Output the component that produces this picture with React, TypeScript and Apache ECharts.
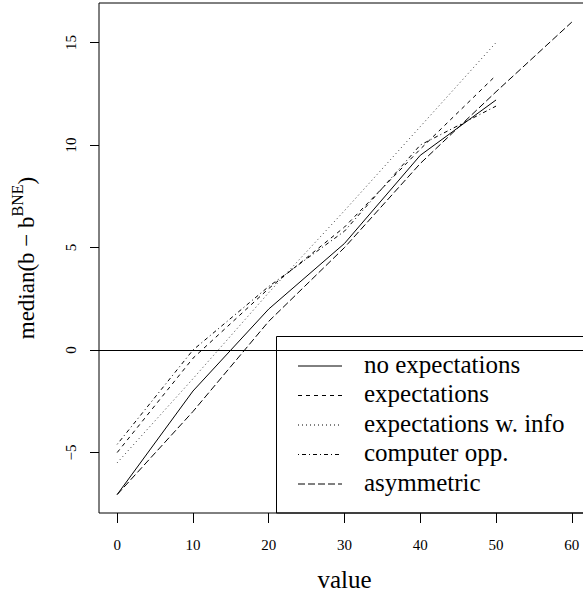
import React, { useEffect, useRef } from "react";
import * as echarts from "echarts";

const xs = [0, 10, 20, 30, 40, 50];
const xsAsym = [0, 10, 20, 30, 40, 50, 60];
const noExpectations = [-7.05, -2.0, 2.0, 5.2, 9.5, 12.2];
const expectations = [-5.0, -0.4, 3.0, 6.0, 9.8, 13.4];
const expectationsInfo = [-5.5, -1.4, 2.8, 6.8, 10.9, 15.0];
const computerOpp = [-4.6, 0.0, 3.1, 5.8, 10.0, 11.9];
const asymmetric = [-7.05, -3.0, 1.4, 5.0, 9.1, 12.6, 16.0];
const xTicks = [0, 10, 20, 30, 40, 50, 60];
const yTicks = [-5, 0, 5, 10, 15];
const legendNames = [
  "no expectations",
  "expectations",
  "expectations w. info",
  "computer opp.",
  "asymmetric",
];

const FONT = "'Liberation Serif', 'Times New Roman', serif";
const dashes: (number[] | null)[] = [null, [4, 4], [1, 3], [1, 3, 4, 3], [7, 3]];

export default function App() {
  const ref = useRef<HTMLDivElement>(null);
  useEffect(() => {
    if (!ref.current) return;
    const chart = echarts.init(ref.current, undefined, { renderer: "svg" });
    const pairs = (x: number[], y: number[]) => x.map((v, i) => [v, y[i]]);
    const seriesData = [
      pairs(xs, noExpectations),
      pairs(xs, expectations),
      pairs(xs, expectationsInfo),
      pairs(xs, computerOpp),
      pairs(xsAsym, asymmetric),
    ];
    const series: any[] = seriesData.map((d, i) => ({
      name: legendNames[i],
      type: "line",
      data: d,
      symbol: "none",
      showSymbol: false,
      lineStyle: {
        color: i === 2 ? "#333" : "#000",
        width: 1,
        type: dashes[i] ? dashes[i] : "solid",
      },
      z: 3,
    }));
    series[0].markLine = {
      silent: true,
      symbol: "none",
      label: { show: false },
      lineStyle: { color: "#000", width: 1, type: "solid" },
      data: [{ yAxis: 0 }],
    };

    const rowY = [366, 395.5, 425, 454.5, 484];
    const graphics: any[] = [
      {
        type: "rect",
        shape: { x: 276.5, y: 336.5, width: 400, height: 176.5 },
        style: { fill: "none", stroke: "#000", lineWidth: 1 },
        silent: true,
      },
    ];
    legendNames.forEach((n, i) => {
      graphics.push({
        type: "line",
        shape: { x1: 298, y1: rowY[i], x2: 342, y2: rowY[i] },
        style: {
          stroke: "#000",
          lineWidth: 1,
          lineDash: dashes[i] ? dashes[i] : null,
        },
        silent: true,
      });
      graphics.push({
        type: "text",
        x: 364,
        y: rowY[i] - 2,
        style: {
          text: n,
          fontFamily: FONT,
          fontSize: 25,
          fill: "#000",
          align: "left",
          verticalAlign: "middle",
        },
        silent: true,
      });
    });

    chart.setOption({
      animation: false,
      backgroundColor: "#fff",
      grid: {
        left: 99,
        right: -7,
        top: 3,
        bottom: 79,
        show: true,
        borderColor: "#000",
        borderWidth: 1,
        backgroundColor: "transparent",
        containLabel: false,
        outerBoundsMode: "none",
      },
      xAxis: {
        type: "value",
        min: -2.4,
        max: 62.4,
        name: "value",
        nameLocation: "middle",
        nameGap: 54,
        nameTextStyle: { fontFamily: FONT, fontSize: 25, lineHeight: 25, color: "#000" },
        axisLine: { show: false, onZero: false },
        splitLine: { show: false },
        axisTick: {
          show: true,
          customValues: xTicks,
          length: 10,
          lineStyle: { color: "#000", width: 1 },
        },
        axisLabel: {
          customValues: xTicks,
          fontFamily: FONT,
          fontSize: 15,
          color: "#000",
          margin: 24,
        },
      },
      yAxis: {
        type: "value",
        min: -7.95,
        max: 16.93,
        name: "{a|median(b − b}{s|BNE}{a|)}",
        nameLocation: "middle",
        nameRotate: 90,
        nameGap: 56,
        nameTextStyle: {
          fontFamily: FONT,
          color: "#000",
          rich: {
            a: { fontFamily: FONT, fontSize: 23, color: "#000", lineHeight: 34 },
            s: {
              fontFamily: FONT,
              fontSize: 16,
              color: "#000",
              verticalAlign: "top",
              lineHeight: 34,
              padding: [0, 0, 14, 0],
            },
          },
        },
        axisLine: { show: false, onZero: false },
        splitLine: { show: false },
        axisTick: {
          show: true,
          customValues: yTicks,
          length: 9,
          lineStyle: { color: "#000", width: 1 },
        },
        axisLabel: {
          customValues: yTicks,
          rotate: 90,
          fontFamily: FONT,
          fontSize: 15,
          color: "#000",
          margin: 21,
          formatter: (v: number) => (v < 0 ? "\u2212" + Math.abs(v) : String(v)),
        },
      },
      series,
      graphic: graphics,
    });
    return () => chart.dispose();
  }, []);
  return (
    <div
      ref={ref}
      style={{ position: "fixed", left: 0, top: 0, width: 583, height: 592, background: "#fff" }}
    />
  );
}
